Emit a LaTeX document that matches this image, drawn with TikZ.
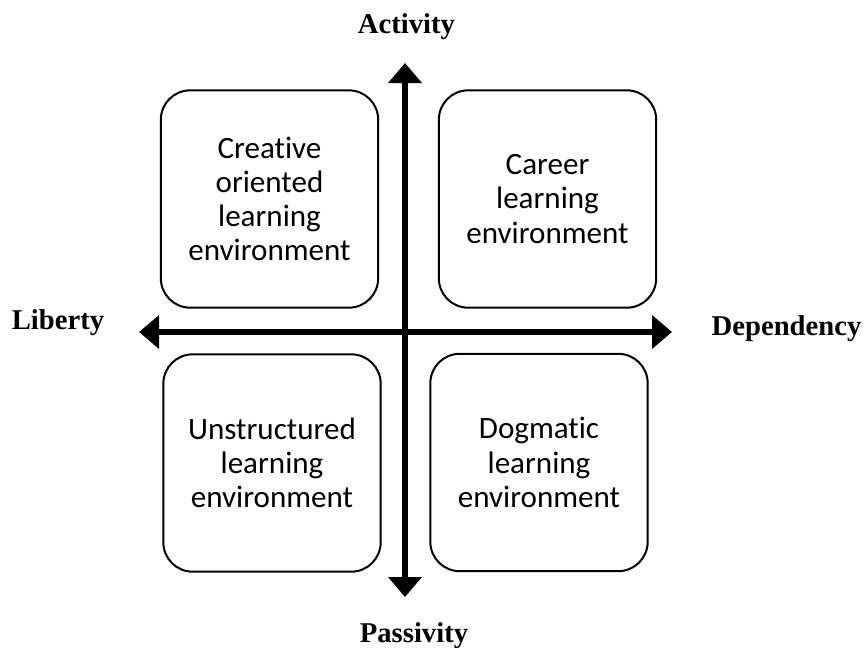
\documentclass[tikz,border=0pt]{standalone}
\usepackage{fontspec}
\setmainfont{Liberation Serif}
\newfontfamily\boxfont[Ligatures=NoCommon]{Carlito}
\usetikzlibrary{arrows.meta}
\begin{document}
\begin{tikzpicture}[x=0.75pt,y=-0.75pt,
  quadbox/.style={draw, line width=1.5pt, rounded corners=22pt,
    minimum width=163pt, minimum height=163pt, align=center,
    font=\boxfont\fontsize{23.3}{25.6}\selectfont, inner sep=0pt},
  axislabel/.style={anchor=base, font=\bfseries\fontsize{21.5}{26}\selectfont, inner sep=0pt},
  axisline/.style={line width=3.8pt,
    {Triangle[length=15pt,width=24.5pt]}-{Triangle[length=15pt,width=24.5pt]}}]
\useasboundingbox (0,0) rectangle (866,647);
\node[quadbox] (tl) at (269.5,199) {Creative\\oriented\\learning\\environment};
\node[quadbox] (tr) at (547.5,199) {Career\\learning\\environment};
\node[quadbox] (bl) at (272,463) {Unstructured\\learning\\environment};
\node[quadbox] (br) at (539,462.5) {Dogmatic\\learning\\environment};
\coordinate (top) at (405,63);
\coordinate (bot) at (405,597);
\coordinate (lft) at (139,332);
\coordinate (rgt) at (672,332);
\draw[axisline] (bot) -- (top);
\draw[axisline] (lft) -- (rgt);
\node[axislabel] (act) at (406.5,33) {Activity};
\node[axislabel] (pas) at (414,642) {Passivity};
\node[axislabel] (lib) at (58,329) {Liberty};
\node[axislabel] (dep) at (786.5,335) {Dependency};
\end{tikzpicture}
\end{document}
